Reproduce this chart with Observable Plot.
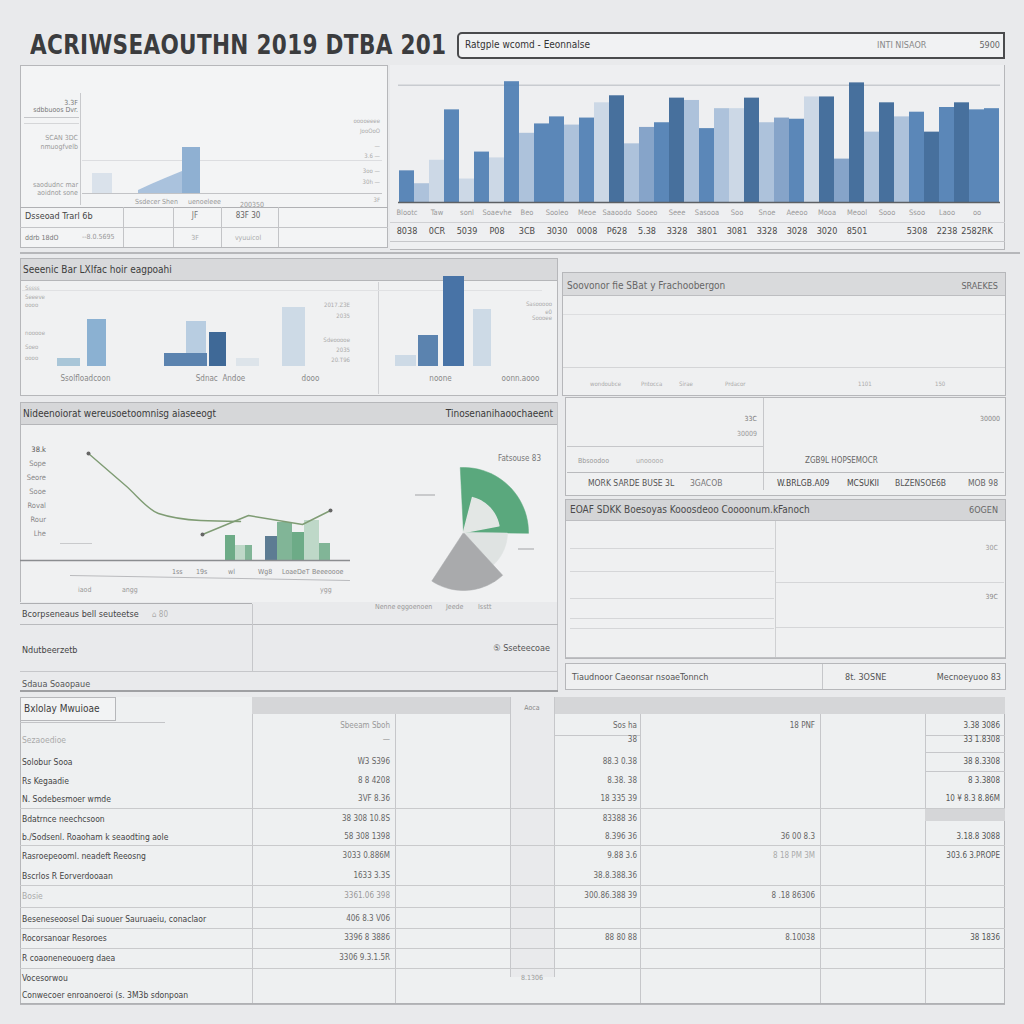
<!DOCTYPE html>
<html>
<head>
<meta charset="utf-8">
<script src="https://cdn.jsdelivr.net/npm/d3@7"></script>
<script src="https://cdn.jsdelivr.net/npm/@observablehq/plot@0.6"></script>
<style>
html,body{margin:0;padding:0;background:#e9eaec;}
#root{position:relative;width:1024px;height:1024px;overflow:hidden;background:#e9eaec;font-family:"Liberation Sans Narrow","DejaVu Sans Condensed","Liberation Sans",sans-serif;color:#555;}
#root svg{background:transparent;overflow:visible;}
</style>
</head>
<body>
<div id="root"></div>
<script>
// ---------------- DATA ----------------
const title = "ACRIWSEAOUTHN 2019 DTBA 201";
const headerLeft = "Ratgple wcomd - Eeonnalse";
const headerRight = ["INTI NISAOR", "5900"];

// top right bar chart (40 bars)
const topIds = d3.range(40);
const topValues = [27,16,36,79,20,43,38,103,59,67,73,66,72,85,91,50,64,68,89,87,63,80,80,89,68,72,71,90,90,37,102,60,85,73,77,60,81,85,79,80];
const topShade  = ["md","lt","vl","md","vl","md","vl","md","lt","md","md","lt","md","vl","dk","lt","lm","md","dk","lt","md","lt","vl","dk","lt","lm","md","vl","dk","lm","dk","lt","dk","lt","md","dk","md","dk","md","md"];
const topRow1 = ["Blootc","","Taw","","sonl","","Soaevhe","","Beo","","Sooleo","","Meoe","","Saaoodo","","Sooeo","","Seee","","Sasooa","","Soo","","Snoe","","Aeeoo","","Mooa","","Meool","","Sooo","","Ssoo","","Laoo","","oo",""];
const topRow2 = ["8038","","0CR","","5039","","P08","","3CB","","3030","","0008","","P628","","5.38","","3328","","3801","","3081","","3328","","3028","","3020","","8501","","","","5308","","2238","","2582RK",""];

// top left area chart
const tlAreaX = [5.3, 6.6, 8.0, 9.7];
const tlAreaY = [3, 9, 15, 22];
const tlBlock = [{x1: 9.7, x2: 11.5, v: 46}];
const tlFaint = [{x1: 0.7, x2: 2.7, v: 20}];
const tlLabels = ["Ssdecer Shen", "uenoeleee", "200350"];
const tlLeft = ["3.3F", "sdbbuoos Dvr.", "SCAN 3DC", "nmuogfvelb", "saodudnc mar", "aoidnot sone"];
const tlRows = [["Dsseoad Trarl 6b", "JF", "83F 30"], ["ddrb 18dO", "--8.0.5695", "3F", "vyuuicol"]];

// grouped bar chart (middle left)
const gbBars = [
  {x1: 3.7, x2: 6.0, v: 8, c: "a"},
  {x1: 6.7, x2: 8.6, v: 47, c: "b"},
  {x1: 16.6, x2: 18.6, v: 45, c: "c"},
  {x1: 14.4, x2: 18.7, v: 13, c: "d"},
  {x1: 18.9, x2: 20.6, v: 34, c: "e"},
  {x1: 21.6, x2: 23.9, v: 8, c: "f"},
  {x1: 26.2, x2: 28.5, v: 59, c: "g"},
  {x1: 37.5, x2: 39.6, v: 11, c: "g"},
  {x1: 39.8, x2: 41.8, v: 31, c: "d"},
  {x1: 42.3, x2: 44.4, v: 90, c: "h"},
  {x1: 45.3, x2: 47.1, v: 57, c: "g"}
];
const gbTitle = "Seeenic Bar LXIfac hoir eagpoahi";
const gbLabels = [{x: 6.5, t: "Ssolfloadcoon"}, {x: 20, t: "Sdnac  Andoe"}, {x: 29, t: "dooo"}, {x: 42, t: "noone"}, {x: 50, t: "oonn.aooo"}];

// line + bar chart
const lineA = {x: [6.8, 10.5, 13.8, 18.0, 22.0], y: [107, 75, 47, 40, 39]};
const lineB = {x: [18.2, 22.8, 28.2, 31.0], y: [26, 45, 36, 50]};
const lbBars = [
  {x1: 20.5, x2: 21.5, v: 25, c: "g1"},
  {x1: 21.5, x2: 22.5, v: 15, c: "g3"},
  {x1: 22.5, x2: 23.2, v: 15, c: "g2"},
  {x1: 24.5, x2: 25.7, v: 24, c: "t"},
  {x1: 25.7, x2: 27.2, v: 38, c: "g2"},
  {x1: 27.2, x2: 28.4, v: 28, c: "g1"},
  {x1: 28.4, x2: 29.9, v: 40, c: "g3"},
  {x1: 29.9, x2: 31.0, v: 17, c: "g2"}
];
const lbTicks = ["38.k", "Sope", "Seore", "Sooe", "Roval", "Rour", "Lhe"];
const lbTitle = ["Nideenoiorat wereusoetoomnisg aiaseeogt", "Tinosenanihaoochaeent"];
const lbXLabels1 = ["1ss", "19s", "wl", "Wg8", "LoaeDeT", "Beeeoooe"];
const lbXLabels2 = ["iaod", "angg", "ygg"];

// pie
const pieNames = ["Nenne", "eggoenoen", "Jeede", "Isstt"];
const pieValues = [26, 13, 21, 40];
const pieRadius = [65, 44, 58, 0];
const pieColors = ["#5aa87d", "#dfe3e2", "#a9aaac", "none"];
const pieNote = "Fatsouse 83";

// tables
const midLeftRows = ["Bcorpseneaus bell seuteetse", "Ndutbeerzetb", "Sdaua Soaopaue"];
const rightA = {title: "Soovonor fie SBat y Frachoobergon", right: "SRAEKES", foot: ["wondoubce", "Pntocca", "Sirae", "Prdacor", "1101", "150"]};
const rightB = {r1: ["33C", "30009", "30000"], mid: ["Bbsoodoo", "unooooo", "ZGB9L HOPSEMOCR"], bot: ["MORK SARDE BUSE 3L", "3GACOB", "W.BRLGB.A09", "MCSUKII", "BLZENSOE6B", "MOB 98"]};
const rightC = {title: "EOAF SDKK Boesoyas Kooosdeoo Coooonum.kFanoch", right: "6OGEN", vals: ["30C", "39C"]};
const rightD = ["Tiaudnoor Caeonsar nsoaeTonnch", "8t. 3OSNE", "Mecnoeyuoo 83"];

const btHeader = "Bxlolay Mwuioae";
const btLabels = ["Sezaoedioe", "Solobur Sooa", "Rs Kegaadie", "N. Sodebesmoer wmde", "Bdatrnce neechcsoon", "b./Sodsenl. Roaoham k seaodting aole", "Rasroepeooml. neadeft Reeosng", "Bscrlos R Eorverdooaan", "Bosie", "Beseneseoosel Dai suouer Sauruaeiu, conaclaor", "Rocorsanoar Resoroes", "R coaoneneouoerg daea", "Vocesorwou", "Conwecoer enroanoeroi (s. 3M3b sdonpoan"];
const btCol1 = ["Sbeeam  Sboh", "—", "W3 S396", "8 8 4208", "3VF 8.36", "38 308 10.8S", "58  308  1398", "3033 0.886M", "1633  3.3S", "3361.06  398", "406  8.3 V06", "3396 8 3886", "3306 9.3.1.5R", "", ""];
const btCol2 = ["Sos ha", "38", "88.3 0.38", "8.38. 38", "18 335 39", "83388 36", "8.396 36", "9.88 3.6", "38.8.388.36", "300.86.388 39", "", "88 80 88", "", "", ""];
const btCol3 = ["18 PNF", "", "", "", "", "", "36 00 8.3", "8 18 PM 3M", "", "8 .18 86306", "", "8.10038", "", "", ""];
const btCol4 = ["3.38 3086", "33 1.8308", "38 8.3308", "8 3.3808", "10  ¥ 8.3 8.86M", "", "3.18.8 3088", "303.6 3.PROPE", "", "", "", "38 1836", "", "", ""];
const btSmall = ["Aoca", "8.1306"];

// ---------------- HELPERS ----------------
const root = document.getElementById("root");
function box(x, y, w, h, css) {
  const d = document.createElement("div");
  d.style.cssText = `position:absolute;left:${x}px;top:${y}px;width:${w}px;height:${h}px;box-sizing:border-box;${css || ""}`;
  root.appendChild(d); return d;
}
function hline(x, y, w, c, t) { return box(x, y, w, t || 1, `background:${c || "#b9babd"}`); }
function vline(x, y, h, c, t) { return box(x, y, t || 1, h, `background:${c || "#b9babd"}`); }
function txt(x, y, s, size, color, opt) {
  opt = opt || {};
  const d = document.createElement("div");
  d.textContent = s;
  const tx = opt.align === "r" ? "translateX(-100%)" : opt.align === "c" ? "translateX(-50%)" : "";
  d.style.cssText = `position:absolute;left:${x}px;top:${y - size * 0.6}px;font-size:${size}px;line-height:${size * 1.2}px;white-space:nowrap;color:${color || "#555"};transform:${tx};${opt.css || ""}`;
  root.appendChild(d); return d;
}
function place(x, y, node) {
  const d = document.createElement("div");
  d.style.cssText = `position:absolute;left:${x}px;top:${y}px;`;
  d.appendChild(node); root.appendChild(d); return d;
}
const plotStyle = {background: "transparent", overflow: "visible", fontFamily: "Liberation Sans Narrow, DejaVu Sans Condensed, sans-serif"};

// ---------------- TITLE & HEADER ----------------
txt(30, 45, title, 24, "#3b3c3e", {css: "font-weight:bold;letter-spacing:0.3px;transform:scaleY(1.1);transform-origin:left center;"});
box(457, 32, 548, 27, "border:2px solid #4a4b4d;border-radius:5px 0 0 5px;background:#f1f2f3;");
txt(465, 45, headerLeft, 10, "#333");
txt(877, 45, headerRight[0], 9, "#888");
txt(1000, 45, headerRight[1], 9, "#666", {align: "r"});

// ---------------- TOP LEFT PANEL ----------------
box(20, 65, 368, 183, "border:1px solid #b6b7ba;background:#f3f4f5;");
box(24, 93, 57, 112, "border-right:1px solid #c8c9cc;");
tlLeft.forEach((s, i) => txt(78, [103, 110, 138, 147, 185, 193][i], s, 7, i < 2 ? "#777" : "#999", {align: "r"}));
hline(24, 117, 55, "#c5c6c9");
hline(24, 123, 55, "#d5d6d8");
hline(82, 160, 300, "#dcdde0");
hline(82, 193, 300, "#c2c3c6");
const tlPlot = Plot.plot({
  width: 300, height: 70, marginLeft: 0, marginRight: 0, marginTop: 0, marginBottom: 0,
  x: {domain: [0, 30], axis: null}, y: {domain: [0, 70], axis: null},
  style: plotStyle,
  marks: [
    Plot.rectY(tlFaint, {x1: "x1", x2: "x2", y: "v", fill: "#c9d6e4", fillOpacity: 0.6}),
    Plot.areaY(tlAreaX.map((x, i) => ({x, y: tlAreaY[i]})), {x: "x", y: "y", fill: "#9cb9d8", fillOpacity: 0.85}),
    Plot.rectY(tlBlock, {x1: "x1", x2: "x2", y: "v", fill: "#8fb0d2"})
  ]
});
place(85, 123, tlPlot);
[[135, 202], [188, 202], [240, 205]].forEach((p, i) => txt(p[0], p[1], tlLabels[i], 7, "#999"));
["ooooeeee", "JooOoO", "—", "3.6 —", "3oo —", "30h —", "3F"].forEach((s, i) => txt(380, [121, 131, 146, 156, 171, 182, 200][i], s, 6, "#aaa", {align: "r"}));
hline(20, 207, 368, "#b0b1b4");
hline(20, 227, 368, "#c3c4c7");
[123, 173, 221, 278].forEach(x => vline(x, 207, 40, "#c3c4c7"));
txt(25, 216, tlRows[0][0], 9, "#444");
txt(195, 216, tlRows[0][1], 8, "#777", {align: "c"});
txt(248, 216, tlRows[0][2], 8, "#666", {align: "c"});
txt(25, 238, tlRows[1][0], 7, "#777");
txt(82, 237, tlRows[1][1], 7, "#999");
txt(195, 238, tlRows[1][2], 7, "#aaa", {align: "c"});
txt(248, 238, tlRows[1][3], 7, "#aaa", {align: "c"});

// ---------------- TOP RIGHT BAR CHART ----------------
box(390, 65, 615, 185, "border-right:1px solid #b6b7ba;border-bottom:1px solid #b6b7ba;background:#eeeff1;");
const shadeDomain = ["dk", "md", "lm", "lt", "vl"];
const shadeRange = ["#3d6898", "#5281b4", "#7f9fc6", "#a9bfd9", "#c9d6e5"];
const trPlot = Plot.plot({
  width: 614, height: 180, marginLeft: 8, marginRight: 4, marginTop: 10, marginBottom: 41,
  x: {type: "band", domain: topIds, padding: 0.02},
  y: {domain: [0, 110], axis: null},
  color: {type: "ordinal", domain: shadeDomain, range: shadeRange},
  style: plotStyle,
  marks: [
    Plot.ruleY([100], {stroke: "#c8cbd0", strokeWidth: 1.5}),
    Plot.ruleY([64, 47, 38], {stroke: "#d3d5d9", x1: 0, x2: 3.5}),
    Plot.barY(topIds, {x: d => d, y: d => topValues[d], fill: d => topShade[d], fillOpacity: 0.95}),
    Plot.ruleY([0], {stroke: "#5d6064", strokeWidth: 1.5}),
    Plot.axisX({tickSize: 0, tickPadding: 7, fontSize: 7.5, fill: "#9a9a9a", tickFormat: d => topRow1[d]}),
    Plot.axisX({tickSize: 0, tickPadding: 25, fontSize: 9, fill: "#4a4a4a", tickFormat: d => topRow2[d]})
  ]
});
place(390, 63, trPlot);
hline(390, 222, 615, "#d0d1d4");
hline(390, 241, 615, "#c6c7ca");
hline(20, 252, 1000, "#b6b7ba", 2);

// ---------------- MIDDLE LEFT GROUPED BARS ----------------
box(20, 258, 538, 138, "border:1px solid #b6b7ba;background:#f0f1f2;");
box(21, 259, 536, 22, "background:#d8d9db;border-bottom:1px solid #b5b6b9;");
txt(23, 270, gbTitle, 10, "#3c3c3c");
vline(378, 282, 112, "#d0d1d4");
hline(22, 290, 520, "#e0e1e3");
const gbColorDomain = ["a", "b", "c", "d", "e", "f", "g", "h"];
const gbColorRange = ["#a9c6d8", "#8bb1d2", "#b8cde1", "#5b83af", "#3f6997", "#dde4ea", "#cddae6", "#4873a6"];
const gbPlot = Plot.plot({
  width: 538, height: 126, marginLeft: 0, marginRight: 0, marginTop: 8, marginBottom: 18,
  x: {domain: [0, 53.8], axis: null}, y: {domain: [0, 100], axis: null},
  color: {type: "ordinal", domain: gbColorDomain, range: gbColorRange},
  style: plotStyle,
  marks: [
    Plot.rectY(gbBars, {x1: "x1", x2: "x2", y: "v", fill: "c"}),
    Plot.text(gbLabels, {x: "x", text: "t", frameAnchor: "bottom", dy: 14, fontSize: 8, fill: "#888"})
  ]
});
place(20, 258, gbPlot);
[["2017.Z3E", 305], ["2035", 316], ["Sdeooooe", 340], ["2035", 350], ["20.T96", 360]].forEach(p => txt(350, p[1], p[0], 6, "#aaa", {align: "r"}));
[["Sasooooo", 304], ["e0", 312], ["Soooee", 318]].forEach(p => txt(552, p[1], p[0], 6, "#aaa", {align: "r"}));
["Sssss", "Seeeve", "oooo", "nooooe", "Soeo", "oooo"].forEach((s, i) => txt(25, [288, 297, 305, 333, 347, 358][i], s, 6, "#aaa"));

// ---------------- MIDDLE RIGHT PANELS ----------------
box(562, 272, 444, 124, "border:1px solid #b6b7ba;background:#eff0f1;");
box(563, 273, 442, 23, "background:#d9dadc;border-bottom:1px solid #bdbec1;");
txt(567, 286, rightA.title, 10, "#666");
txt(998, 286, rightA.right, 9, "#666", {align: "r"});
hline(563, 314, 442, "#dddee0");
hline(563, 367, 442, "#d4d5d7");
[[590, 0], [641, 1], [679, 2], [725, 3], [858, 4], [935, 5]].forEach(p => txt(p[0], 384, rightA.foot[p[1]], 6, "#aaa"));

box(565, 397, 441, 99, "border:1px solid #b6b7ba;background:#eff0f1;");
vline(763, 398, 92, "#c6c7ca");
hline(567, 446, 196, "#c6c7ca");
hline(567, 472, 437, "#b9babd");
txt(757, 419, rightB.r1[0], 7, "#777", {align: "r"});
txt(757, 434, rightB.r1[1], 7, "#999", {align: "r"});
txt(1000, 419, rightB.r1[2], 7, "#888", {align: "r"});
txt(578, 461, rightB.mid[0], 7, "#999");
txt(636, 461, rightB.mid[1], 7, "#aaa");
txt(805, 461, rightB.mid[2], 8, "#666");
[[588, 0, "#555"], [690, 1, "#777"], [777, 2, "#444"], [847, 3, "#444"], [895, 4, "#555"], [968, 5, "#666"]].forEach(p => txt(p[0], 483, rightB.bot[p[1]], 8.5, p[2]));

box(565, 499, 441, 160, "border:1px solid #b6b7ba;background:#eff0f1;");
box(566, 500, 439, 21, "background:#d4d5d7;border-bottom:1px solid #bdbec1;");
txt(570, 510, rightC.title, 10, "#4a4a4a");
txt(998, 510, rightC.right, 9, "#666", {align: "r"});
vline(775, 521, 137, "#cfd0d2");
[548, 571, 598, 618, 628].forEach(y => hline(570, y, 204, "#d5d6d8"));
[582, 627].forEach(y => hline(776, y, 228, "#d5d6d8"));
hline(566, 657, 439, "#c0c1c4");
txt(998, 548, rightC.vals[0], 7, "#999", {align: "r"});
txt(998, 597, rightC.vals[1], 7, "#888", {align: "r"});

box(565, 663, 441, 27, "border:1px solid #b6b7ba;background:#eff0f1;");
vline(822, 664, 25, "#c6c7ca");
txt(572, 677, rightD[0], 9, "#555");
txt(845, 677, rightD[1], 9, "#555");
txt(1001, 677, rightD[2], 9, "#555", {align: "r"});

// ---------------- LINE + BAR CHART ----------------
box(20, 402, 538, 200, "border:1px solid #b6b7ba;border-bottom:none;background:#f0f1f2;");
box(21, 403, 536, 22, "background:#d6d7d9;border-bottom:1px solid #b5b6b9;");
txt(23, 414, lbTitle[0], 10, "#3a3a3a");
txt(553, 414, lbTitle[1], 10, "#3a3a3a", {align: "r"});
lbTicks.forEach((s, i) => txt(46, 449 + i * 14, s, 7.5, i === 0 ? "#555" : "#888", {align: "r"}));
const lbColorDomain = ["g1", "g2", "g3", "t"];
const lbColorRange = ["#5ea37b", "#74ae8d", "#b8d5c3", "#4d6f88"];
const lbPlot = Plot.plot({
  width: 538, height: 180, marginLeft: 0, marginRight: 0, marginTop: 20, marginBottom: 40,
  x: {domain: [0, 53.8], axis: null}, y: {domain: [0, 120], axis: null},
  color: {type: "ordinal", domain: lbColorDomain, range: lbColorRange},
  style: plotStyle,
  marks: [
    Plot.rectY(lbBars, {x1: "x1", x2: "x2", y: "v", fill: "c", fillOpacity: 0.9}),
    Plot.line(lineA.x.map((x, i) => ({x, y: lineA.y[i]})), {x: "x", y: "y", stroke: "#7f9c74", strokeWidth: 1.4, curve: "monotone-x"}),
    Plot.line(lineB.x.map((x, i) => ({x, y: lineB.y[i]})), {x: "x", y: "y", stroke: "#7f9c74", strokeWidth: 1.4}),
    Plot.dot([{x: lineA.x[0], y: lineA.y[0]}, {x: lineB.x[0], y: lineB.y[0]}, {x: lineB.x[3], y: lineB.y[3]}], {x: "x", y: "y", r: 2, fill: "#666"}),
    Plot.ruleY([0], {stroke: "#8b8d90", strokeWidth: 1.5, x1: 0, x2: 33})
  ]
});
place(20, 420, lbPlot);
hline(60, 543, 32, "#c9cacc");
[[172, 0], [196, 1], [228, 2], [258, 3], [282, 4], [312, 5]].forEach(p => txt(p[0], 572, lbXLabels1[p[1]], 7, "#888"));
box(70, 575, 280, 6, "border-top:1px solid #b9babd;transform:rotate(1deg);transform-origin:left top;");
[[78, 0], [122, 1], [320, 2]].forEach(p => txt(p[0], 590, lbXLabels2[p[1]], 7, "#999"));

// pie
function slicePolys() {
  const arcs = d3.pie().sort(null)(pieValues);
  const pts = [];
  arcs.forEach((a, i) => {
    if (pieRadius[i] === 0) return;
    const n = 24, r = pieRadius[i];
    pts.push({x: 0, y: 0, s: i});
    for (let k = 0; k <= n; k++) {
      const t = a.startAngle + (a.endAngle - a.startAngle) * k / n - 0.05;
      pts.push({x: r * Math.sin(t), y: r * Math.cos(t), s: i});
    }
    pts.push({x: 0, y: 0, s: i});
  });
  return pts;
}
const piePts = slicePolys();
const innerArc = d3.pie().sort(null)([4, 18, 78])[1];
const innerPts = [{x: 0, y: 0}].concat(d3.range(0, 13).map(k => {
  const t = innerArc.startAngle + (innerArc.endAngle - innerArc.startAngle) * k / 12;
  return {x: 36 * Math.sin(t), y: 36 * Math.cos(t)};
}), [{x: 0, y: 0}]);
const piePlot = Plot.plot({
  width: 150, height: 150, margin: 0,
  x: {domain: [-75, 75], axis: null}, y: {domain: [-75, 75], axis: null},
  style: plotStyle,
  marks: [
    Plot.line(piePts, {x: "x", y: "y", z: "s", fill: d => pieColors[d.s], stroke: d => pieColors[d.s], strokeWidth: 0.5, curve: "linear"}),
    Plot.line(innerPts, {x: "x", y: "y", fill: "#e3e7e5", stroke: "#e3e7e5"})
  ]
});
place(388, 457, piePlot);
txt(541, 459, pieNote, 8, "#777", {align: "r"});
hline(415, 494, 20, "#c9cacc", 2);
hline(518, 548, 16, "#c9cacc", 2);
[[375, 0], [397, 1], [446, 2], [478, 3]].forEach(p => txt(p[0], 607, pieNames[p[1]], 7, "#999"));
vline(557, 402, 290, "#c6c7ca");

// ---------------- MIDDLE LEFT TABLE ----------------
hline(20, 603, 232, "#aeafb2");
hline(20, 624, 538, "#b9babd");
vline(252, 604, 68, "#c6c7ca");
hline(20, 671, 538, "#c6c7ca");
hline(20, 690, 538, "#9fa0a3", 2);
txt(22, 614, midLeftRows[0], 9, "#444");
txt(152, 615, "⌂ 80", 8, "#aaa");
txt(22, 650, midLeftRows[1], 9, "#444");
txt(550, 648, "⑤ Sseteecoae", 9, "#555", {align: "r"});
txt(22, 684, midLeftRows[2], 9, "#555");

// ---------------- BOTTOM TABLE ----------------
box(20, 697, 985, 308, "border:1px solid #b6b7ba;border-top:none;background:#eef0f1;");
box(252, 697, 753, 17, "background:#d5d6d8;");
box(510, 697, 45, 280, "background:#e9eaec;border-left:1px solid #c6c7ca;border-right:1px solid #c6c7ca;");
box(20, 697, 96, 24, "border:1px solid #b6b7ba;background:#f2f3f4;");
txt(24, 709, btHeader, 10, "#3c3c3c");
hline(20, 722, 145, "#c3c4c7");
[252, 395, 640, 820, 925].forEach(x => vline(x, 714, 290, "#c6c7ca"));
const btRowY = [726, 740, 762, 781, 799, 819, 837, 856, 876, 896, 919, 938, 958, 978, 995];
[808, 845, 885, 907, 928, 948, 968].forEach(y => hline(20, y, 985, "#c9cacc"));
hline(20, 1003, 985, "#b0b1b4");
hline(555, 735, 85, "#c6c7ca");
hline(925, 735, 80, "#c6c7ca");
hline(925, 752, 80, "#c6c7ca");
hline(925, 771, 80, "#c6c7ca");
box(925, 809, 80, 12, "background:#d5d6d8;");
btLabels.forEach((s, i) => txt(22, btRowY[i + 1], s, 8.5, (i === 0 || i === 8) ? "#aaa" : "#444"));
btCol1.forEach((s, i) => s && txt(390, btRowY[i], s, 8, (i === 0 || i === 1 || i === 9) ? "#999" : "#666", {align: "r"}));
btCol2.forEach((s, i) => s && txt(637, btRowY[i], s, 8, "#666", {align: "r"}));
btCol3.forEach((s, i) => s && txt(815, btRowY[i], s, 8, i === 7 ? "#aaa" : "#666", {align: "r"}));
btCol4.forEach((s, i) => s && txt(1000, btRowY[i], s, 8, "#555", {align: "r"}));
txt(532, 708, btSmall[0], 7, "#888", {align: "c"});
txt(532, 978, btSmall[1], 7, "#999", {align: "c"});
</script>
</body>
</html>
